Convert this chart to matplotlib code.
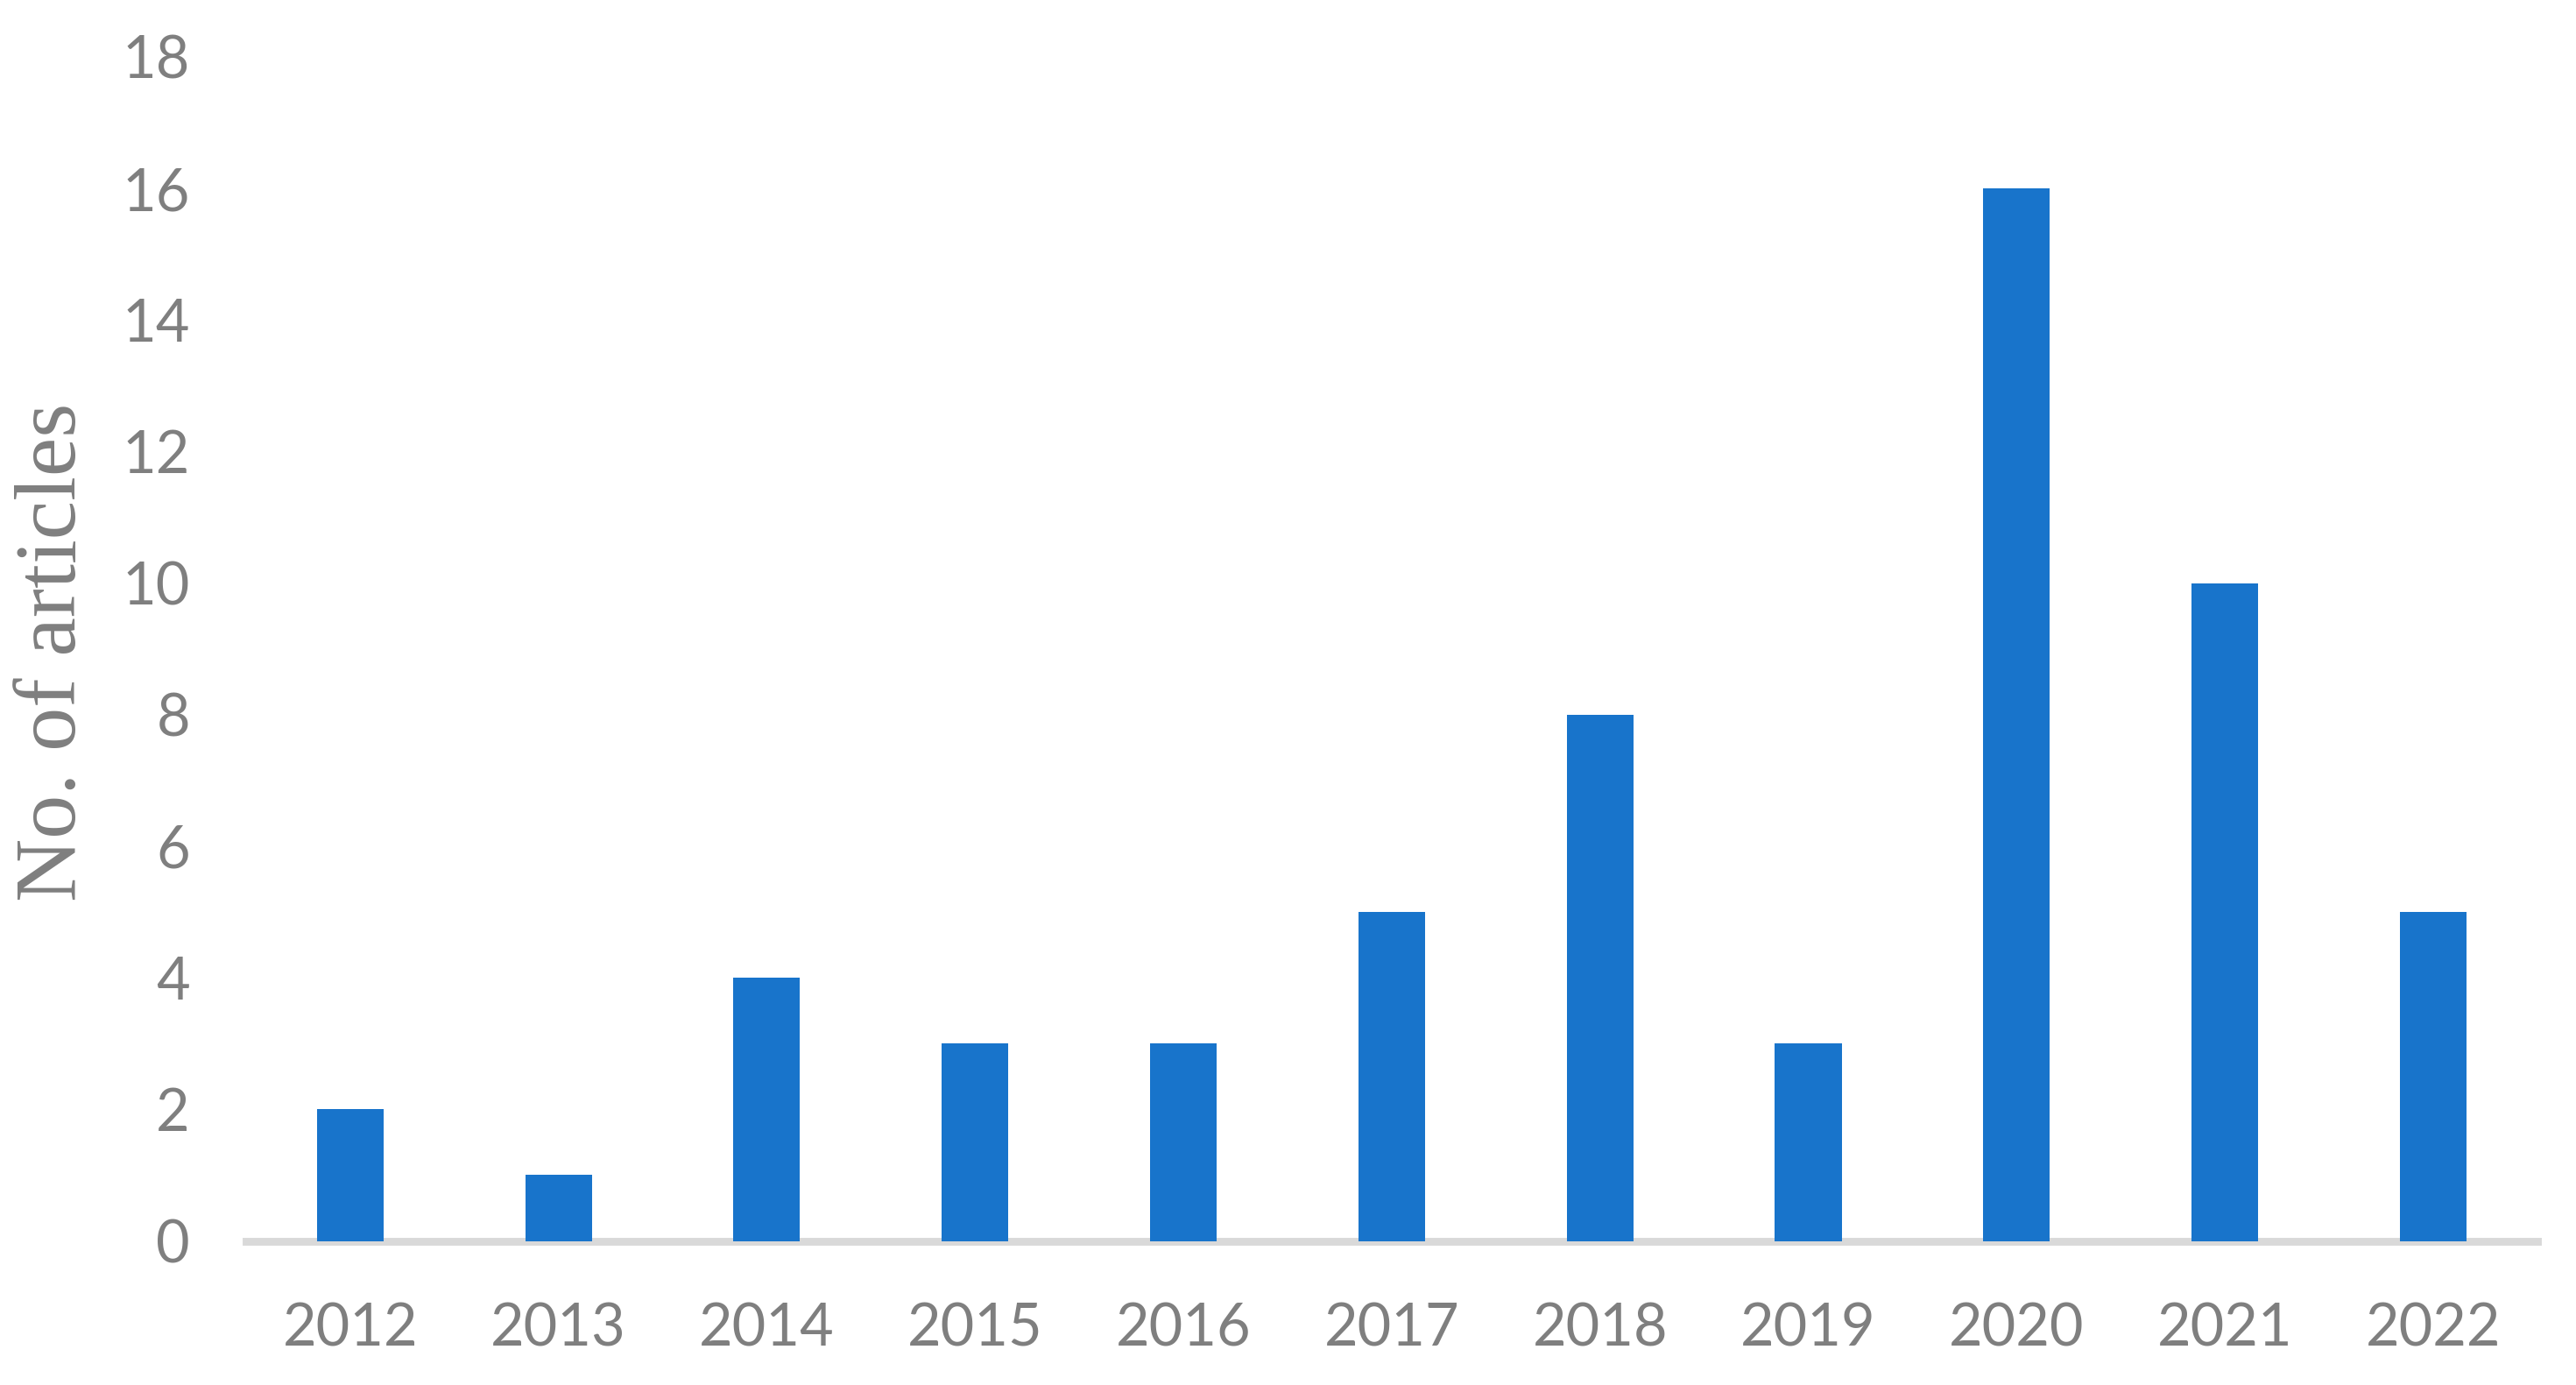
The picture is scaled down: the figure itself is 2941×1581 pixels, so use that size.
import matplotlib
matplotlib.use("Agg")
import matplotlib.pyplot as plt
import numpy as np

# data
years = ["2012", "2013", "2014", "2015", "2016", "2017", "2018", "2019", "2020", "2021", "2022"]
articles = [2, 1, 4, 3, 3, 5, 8, 3, 16, 10, 5]
y_ticks = [0, 2, 4, 6, 8, 10, 12, 14, 16, 18]

bar_color = "#1874CB"
text_color = "#7F7F7F"
axis_color = "#D9D9D9"

fig = plt.figure(figsize=(14.705, 7.905), dpi=200)
ax = fig.add_axes([0.0955, 0.104, 0.8895, 0.855])

x = np.arange(len(years))
ax.bar(x, articles, width=0.32, color=bar_color, zorder=2)

ax.set_xlim(-0.5, len(years) - 0.5)
ax.set_ylim(0, 18)
ax.set_xticks(x)
ax.set_xticklabels(years)
ax.set_yticks(y_ticks)

for s in ["top", "right", "left"]:
    ax.spines[s].set_visible(False)
ax.spines["bottom"].set_color(axis_color)
ax.spines["bottom"].set_linewidth(3.2)
ax.spines["bottom"].set_zorder(1)

ax.tick_params(axis="both", length=0, labelsize=24, labelcolor=text_color)
ax.tick_params(axis="x", pad=25)
ax.tick_params(axis="y", pad=23)
for lab in ax.get_xticklabels() + ax.get_yticklabels():
    lab.set_fontfamily("Lato")

# y label placed in figure coords so it sits at the left edge like the reference
fig.text(0.021, 0.529, "No. of articles", rotation=90, ha="center", va="center",
         fontsize=36, color=text_color, fontfamily="Liberation Serif")

fig.savefig("out.png", dpi=200)
